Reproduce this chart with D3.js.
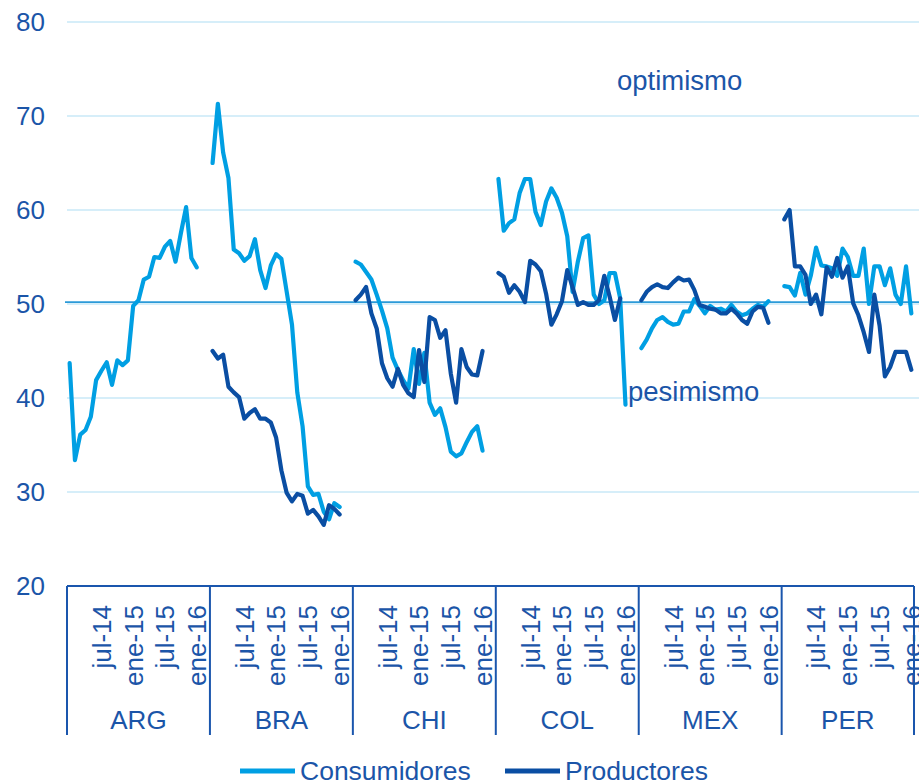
<!DOCTYPE html>
<html>
<head>
<meta charset="utf-8">
<script src="https://cdn.jsdelivr.net/npm/d3@7"></script>
<style>
  body { margin: 0; background: #fff; }
  svg text { font-family: "Liberation Sans", Arial, sans-serif; fill: #1b55a8; }
</style>
</head>
<body>
<div id="chart"></div>
<script>
// categories
const countries = ["ARG", "BRA", "CHI", "COL", "MEX", "PER"];
const months = ["ene-14","feb-14","mar-14","abr-14","may-14","jun-14","jul-14","ago-14","sep-14","oct-14","nov-14","dic-14",
                "ene-15","feb-15","mar-15","abr-15","may-15","jun-15","jul-15","ago-15","sep-15","oct-15","nov-15","dic-15",
                "ene-16","feb-16","mar-16"];
const monthsPerCountry = [27, 27, 27, 27, 27, 25];
const tickLabels = ["jul-14", "ene-15", "jul-15", "ene-16"];
const yTicks = [20, 30, 40, 50, 60, 70, 80];
const neutral = 50.2;

// Consumidores (from ene-14)
const consARG = [43.7, 33.4, 36.1, 36.6, 38.0, 41.9, 42.9, 43.8, 41.4, 44.0, 43.5, 44.0, 49.8, 50.4, 52.6, 52.9, 55.0, 54.9, 56.1, 56.7, 54.5, 57.5, 60.3, 54.9, 53.9];
const consBRA = [65.0, 71.3, 66.1, 63.4, 55.8, 55.4, 54.6, 55.1, 56.9, 53.6, 51.7, 54.1, 55.3, 54.8, 51.3, 47.8, 40.6, 37.0, 30.6, 29.7, 29.8, 27.9, 27.1, 28.8, 28.4];
const consCHI = [54.5, 54.2, 53.4, 52.6, 51.0, 49.3, 47.4, 44.3, 43.0, 41.9, 41.0, 45.2, 41.5, 44.8, 39.5, 38.2, 38.9, 36.9, 34.3, 33.8, 34.1, 35.3, 36.4, 37.0, 34.4];
const consCOL = [63.3, 57.8, 58.6, 59.0, 61.8, 63.3, 63.3, 59.8, 58.4, 60.9, 62.3, 61.3, 59.7, 57.2, 51.3, 54.5, 57.0, 57.3, 51.0, 50.0, 50.4, 53.3, 53.3, 50.6, 39.3];
const consMEX = [45.3, 46.2, 47.4, 48.3, 48.6, 48.1, 47.8, 47.9, 49.2, 49.2, 50.5, 49.8, 49.0, 49.8, 49.4, 49.5, 49.2, 49.9, 49.2, 48.8, 49.0, 49.5, 49.9, 49.7, 50.3];
const consPER = [51.9, 51.8, 50.9, 53.3, 51.0, 53.0, 56.0, 54.1, 54.0, 53.8, 53.0, 55.9, 55.0, 53.0, 53.0, 55.9, 50.0, 54.0, 54.0, 52.0, 53.8, 51.0, 50.0, 54.0, 49.0];

// Productores (from ene-14)
const prodARG = [];
const prodBRA = [45.0, 44.2, 44.6, 41.2, 40.6, 40.1, 37.8, 38.4, 38.8, 37.8, 37.8, 37.4, 35.8, 32.3, 29.9, 29.0, 29.8, 29.6, 27.7, 28.1, 27.4, 26.5, 28.6, 28.2, 27.6];
const prodCHI = [50.4, 51.0, 51.8, 49.0, 47.4, 43.7, 42.1, 41.2, 43.1, 41.4, 40.5, 40.1, 45.1, 41.7, 48.6, 48.3, 46.4, 47.2, 42.6, 39.5, 45.2, 43.3, 42.5, 42.4, 45.0];
const prodCOL = [53.3, 52.9, 51.2, 52.0, 51.3, 50.2, 54.6, 54.2, 53.5, 51.1, 47.8, 48.9, 50.3, 53.6, 51.8, 49.9, 50.2, 49.9, 49.9, 50.4, 53.0, 50.8, 48.3, 50.6];
const prodMEX = [50.4, 51.3, 51.8, 52.1, 51.8, 51.7, 52.3, 52.8, 52.5, 52.6, 51.5, 49.9, 49.7, 49.5, 49.4, 49.0, 49.0, 49.5, 49.0, 48.3, 47.9, 49.2, 49.7, 49.6, 48.0];
const prodPER = [59.0, 60.0, 54.0, 54.0, 53.1, 50.0, 51.0, 48.9, 53.9, 52.9, 54.9, 52.8, 54.0, 50.1, 48.8, 47.0, 44.9, 51.0, 47.7, 42.3, 43.3, 44.9, 44.9, 44.9, 43.0];

const consumidores = [consARG, consBRA, consCHI, consCOL, consMEX, consPER];
const productores = [prodARG, prodBRA, prodCHI, prodCOL, prodMEX, prodPER];

const colCons = "#009fe3";
const colProd = "#0a4ea3";
const colAxis = "#1a56ad";

const widthSvg = 919;
const heightSvg = 782;
const margin = {top: 22, right: 5, bottom: 196, left: 67};

const svg = d3.select("#chart").append("svg")
    .attr("width", widthSvg)
    .attr("height", heightSvg);

var keys = [];
countries.forEach(function(c, ci) {
    months.slice(0, monthsPerCountry[ci]).forEach(function(m) { keys.push(c + "|" + m); });
});

var x = d3.scaleBand().domain(keys).range([margin.left, widthSvg - margin.right]).padding(0);
var y = d3.scaleLinear().domain([20, 80]).range([heightSvg - margin.bottom, margin.top]);
var bw = x.bandwidth();

// gridlines
svg.append("g").selectAll("line")
    .data(yTicks.filter(function(d) { return d > 20; }))
    .enter().append("line")
    .attr("x1", margin.left).attr("x2", widthSvg)
    .attr("y1", function(d) { return y(d); }).attr("y2", function(d) { return y(d); })
    .attr("stroke", "#d6eef9").attr("stroke-width", 2);

// neutral line at 50
svg.append("line")
    .attr("x1", margin.left - 2).attr("x2", widthSvg)
    .attr("y1", y(neutral)).attr("y2", y(neutral))
    .attr("stroke", "#2b9ad8").attr("stroke-width", 1.6);

// y labels
svg.append("g").selectAll("text")
    .data(yTicks)
    .enter().append("text")
    .attr("x", 45)
    .attr("y", function(d) { return y(d); })
    .attr("dy", "0.36em")
    .attr("text-anchor", "end")
    .style("font-size", "26px")
    .text(function(d) { return d; });

// x axis: baseline + group separators
var axisY = y(20);
svg.append("line")
    .attr("x1", margin.left).attr("x2", widthSvg - margin.right)
    .attr("y1", axisY).attr("y2", axisY)
    .attr("stroke", colAxis).attr("stroke-width", 2);

var sepX = countries.map(function(c) { return x(c + "|" + months[0]); });
sepX.push(widthSvg - margin.right);
svg.append("g").selectAll("line")
    .data(sepX)
    .enter().append("line")
    .attr("x1", function(d) { return d; }).attr("x2", function(d) { return d; })
    .attr("y1", axisY).attr("y2", 735)
    .attr("stroke", colAxis).attr("stroke-width", 2);

// month tick labels
countries.forEach(function(c) {
    svg.append("g").selectAll("text")
        .data(tickLabels)
        .enter().append("text")
        .attr("transform", function(d) {
            return "translate(" + (x(c + "|" + d) + bw / 2) + "," + (axisY + 19) + ") rotate(-90)";
        })
        .attr("dy", "0.36em")
        .attr("text-anchor", "end")
        .style("font-size", "26px")
        .text(function(d) { return d; });
});

// country labels
svg.append("g").selectAll("text")
    .data(countries)
    .enter().append("text")
    .attr("x", function(d, i) { return (sepX[i] + sepX[i + 1]) / 2; })
    .attr("y", 720)
    .attr("dy", "0.36em")
    .attr("text-anchor", "middle")
    .style("font-size", "26px")
    .text(function(d) { return d; });

// series lines
var line = d3.line()
    .x(function(d) { return x(d.key) + bw / 2; })
    .y(function(d) { return y(d.v); });

function drawSeries(values, color) {
    countries.forEach(function(c, ci) {
        var pts = values[ci].map(function(v, i) { return {key: c + "|" + months[i], v: v}; });
        if (!pts.length) return;
        svg.append("path")
            .datum(pts)
            .attr("fill", "none")
            .attr("stroke", color)
            .attr("stroke-width", 4.2)
            .attr("stroke-linejoin", "round")
            .attr("stroke-linecap", "round")
            .attr("d", line);
    });
}
drawSeries(consumidores, colCons);
drawSeries(productores, colProd);

// annotations
svg.append("text").attr("x", 617).attr("y", 90)
    .style("font-size", "27.5px").text("optimismo");
svg.append("text").attr("x", 628).attr("y", 401)
    .style("font-size", "27.5px").text("pesimismo");

// legend
var legend = [{name: "Consumidores", color: colCons, x: 240}, {name: "Productores", color: colProd, x: 505}];
var lg = svg.append("g").selectAll("g").data(legend).enter().append("g");
lg.append("line")
    .attr("x1", function(d) { return d.x; }).attr("x2", function(d) { return d.x + 55; })
    .attr("y1", 771).attr("y2", 771)
    .attr("stroke", function(d) { return d.color; }).attr("stroke-width", 5);
lg.append("text")
    .attr("x", function(d) { return d.x + 60; })
    .attr("y", 780)
    .style("font-size", "26.5px")
    .text(function(d) { return d.name; });
</script>
</body>
</html>
